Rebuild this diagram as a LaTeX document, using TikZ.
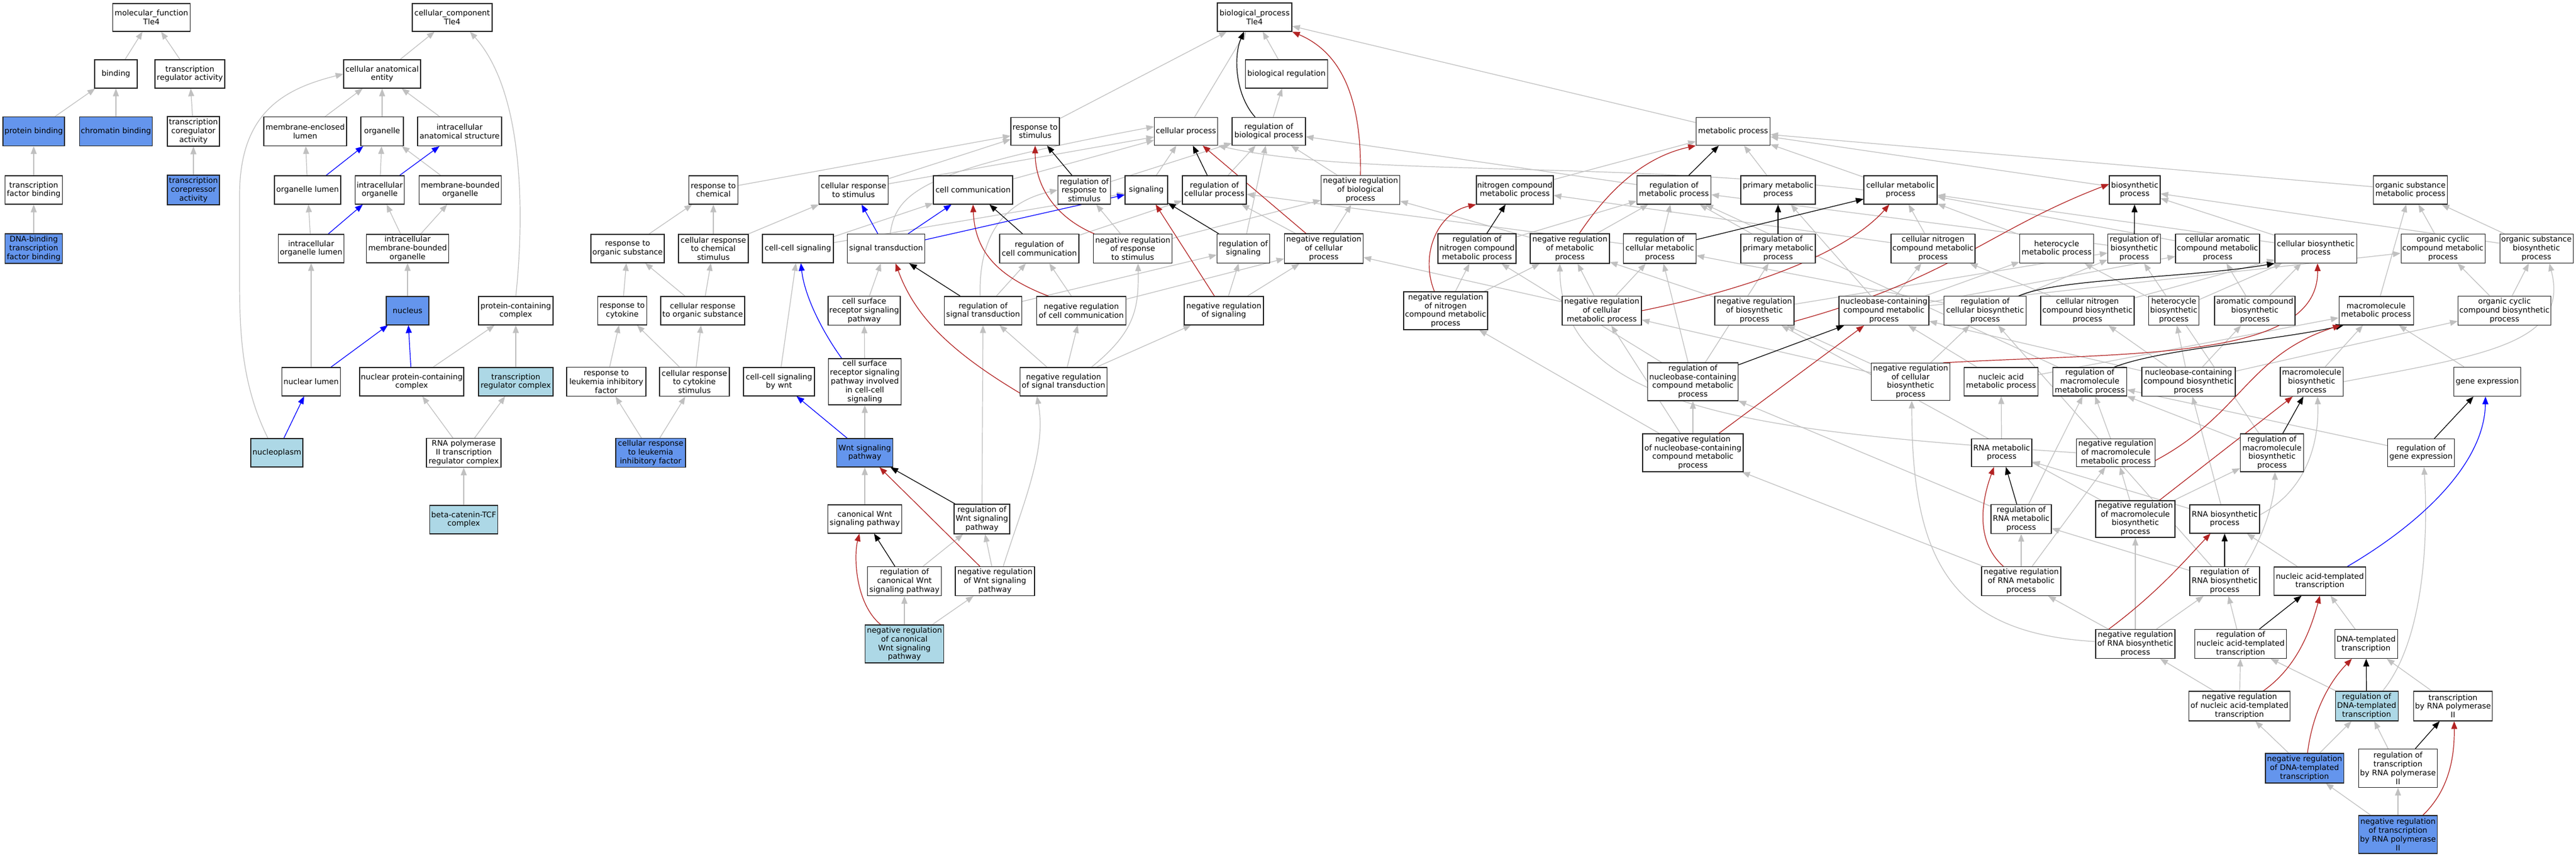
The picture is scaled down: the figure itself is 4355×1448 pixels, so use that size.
\documentclass[tikz,border=0pt]{standalone}
\usepackage{fontspec}
\setmainfont{DejaVu Sans}
\usetikzlibrary{arrows.meta,backgrounds}
\definecolor{gocorn}{HTML}{6495ED}
\definecolor{golb}{HTML}{ADD8E6}
\definecolor{gogrey}{HTML}{C0C0C0}
\definecolor{gored}{HTML}{B22222}
\definecolor{goblue}{HTML}{0000FF}
\tikzset{
 gobox/.style={draw=black!85,line width=1.1pt,fill=white,align=center,inner xsep=1pt,inner ysep=1pt,font=\fontsize{13}{14.8}\selectfont},
 cornbox/.style={fill=gocorn},
 lbbox/.style={fill=golb},
 edgebase/.style={line width=1.2pt,-{Triangle[length=13pt,width=10pt]}},
 isa/.style={edgebase,draw=gogrey},
 regs/.style={edgebase,draw=black},
 nregs/.style={edgebase,draw=gored},
 partof/.style={edgebase,draw=goblue},
}
\newcommand\gonode[7][]{\node[gobox,#1,minimum width=#5pt,minimum height=#6pt] (#2) at (#3,#4) {#7};}
\begin{document}
\begin{tikzpicture}[x=1pt,y=-1pt]
\useasboundingbox (0,0) rectangle (4355,1448);
% molecular function
\gonode{mf}{256}{29.5}{131}{47}{molecular\_function\\Tle4}
\gonode{binding}{196}{125}{72}{48}{binding}
\gonode{tra}{321}{125}{118}{48}{transcription\\regulator activity}
\gonode[cornbox]{pb}{57}{222}{104}{49}{protein binding}
\gonode[cornbox]{cb}{196}{222}{123}{49}{chromatin binding}
\gonode{tca}{327}{222}{88}{50}{transcription\\coregulator\\activity}
\gonode{tfb}{57}{321}{97}{48}{transcription\\factor binding}
\gonode[cornbox]{tcra}{327}{321}{88}{50}{transcription\\corepressor\\activity}
\gonode[cornbox]{dbtf}{57}{420}{97}{50}{DNA-binding\\transcription\\factor binding}
% cellular component
\gonode{cc}{764.5}{29.5}{135}{47}{cellular\_component\\Tle4}
\gonode{cae}{646}{125}{130}{48}{cellular anatomical\\entity}
\gonode{mel}{516}{222}{140}{49}{membrane-enclosed\\lumen}
\gonode{org}{646}{222}{72}{49}{organelle}
\gonode{ias}{777}{222}{142}{49}{intracellular\\anatomical structure}
\gonode{ol}{520}{321}{112}{48}{organelle lumen}
\gonode{io}{642}{321}{83}{48}{intracellular\\organelle}
\gonode{mbo}{778}{321}{139}{48}{membrane-bounded\\organelle}
\gonode{iol}{526}{420}{111}{48}{intracellular\\organelle lumen}
\gonode{imbo}{689}{420}{139}{48}{intracellular\\membrane-bounded\\organelle}
\gonode[cornbox]{nucleus}{689}{525}{72}{48}{nucleus}
\gonode{nl}{526}{645}{99}{48}{nuclear lumen}
\gonode{npcc}{696}{645}{176}{48}{nuclear protein-containing\\complex}
\gonode{pcc}{872}{525}{126}{48}{protein-containing\\complex}
\gonode[lbbox]{trc}{872}{645}{126}{48}{transcription\\regulator complex}
\gonode[lbbox]{np}{468}{765}{88}{48}{nucleoplasm}
\gonode{rnapii}{784}{765}{126}{49}{RNA polymerase\\II transcription\\regulator complex}
\gonode[lbbox]{bcat}{784}{878}{115}{48}{beta-catenin-TCF\\complex}
% response / signaling
\gonode{rchem}{1206}{321}{83}{48}{response to\\chemical}
\gonode{crs}{1443}{321}{117}{48}{cellular response\\to stimulus}
\gonode{ros}{1061}{420}{124}{48}{response to\\organic substance}
\gonode{crcs}{1206}{420}{118}{48}{cellular response\\to chemical\\stimulus}
\gonode{ccs}{1349}{420}{120}{48}{cell-cell signaling}
\gonode{st}{1498}{420}{131}{49}{signal transduction}
\gonode{rcyt}{1052}{525}{83}{48}{response to\\cytokine}
\gonode{cros}{1188}{525}{142}{48}{cellular response\\to organic substance}
\gonode{csrsp}{1461}{525}{122}{49}{cell surface\\receptor signaling\\pathway}
\gonode{rlif}{1025}{645}{134}{49}{response to\\leukemia inhibitory\\factor}
\gonode{crcyt}{1174}{645}{118}{49}{cellular response\\to cytokine\\stimulus}
\gonode{ccswnt}{1317}{645}{120}{48}{cell-cell signaling\\by wnt}
\gonode{csrspccs}{1462}{645}{123}{78}{cell surface\\receptor signaling\\pathway involved\\in cell-cell\\signaling}
\gonode[cornbox]{crlif}{1100}{765}{118}{49}{cellular response\\to leukemia\\inhibitory factor}
\gonode[cornbox]{wnt}{1462}{765}{95}{48}{Wnt signaling\\pathway}
\gonode{cwnt}{1462}{877}{125}{48}{canonical Wnt\\signaling pathway}
\gonode{rwnt}{1660}{877}{94}{50}{regulation of\\Wnt signaling\\pathway}
\gonode{rcwnt}{1529}{982}{125}{49}{regulation of\\canonical Wnt\\signaling pathway}
\gonode{nrwnt}{1682}{982}{134}{49}{negative regulation\\of Wnt signaling\\pathway}
\gonode[lbbox]{nrcwnt}{1529}{1088}{133}{64}{negative regulation\\of canonical\\Wnt signaling\\pathway}
\gonode{nrst}{1798}{645}{147}{48}{negative regulation\\of signal transduction}
% biological process top
\gonode{bp}{2121}{29}{126}{48}{biological\_process\\Tle4}
\gonode{breg}{2175}{125}{139}{48}{biological regulation}
\gonode{rstim}{1750}{222}{82}{47}{response to\\stimulus}
\gonode{cp}{2005}{222}{107}{47}{cellular process}
\gonode{rbp}{2145}{222}{124}{47}{regulation of\\biological process}
\gonode{ccomm}{1645}{321}{134}{48}{cell communication}
\gonode{rrs}{1833}{321}{89}{48}{regulation of\\response to\\stimulus}
\gonode{sig}{1938}{321}{72}{48}{signaling}
\gonode{rcp}{2053}{321}{108}{48}{regulation of\\cellular process}
\gonode{rcc}{1757}{420}{134}{49}{regulation of\\cell communication}
\gonode{nrrs}{1915}{420}{133}{49}{negative regulation\\of response\\to stimulus}
\gonode{rsig}{2102}{420}{89}{49}{regulation of\\signaling}
\gonode{nrcp}{2238}{420}{133}{50}{negative regulation\\of cellular\\process}
\gonode{nrbp}{2300}{321}{133}{49}{negative regulation\\of biological\\process}
\gonode{rst}{1662}{525}{131}{48}{regulation of\\signal transduction}
\gonode{nrcc}{1828}{525}{151}{48}{negative regulation\\of cell communication}
\gonode{nrsig}{2069}{525}{134}{48}{negative regulation\\of signaling}
% metabolic
\gonode{mp}{2930}{222}{125}{47}{metabolic process}
\gonode{ncmp}{2561}{321}{130}{48}{nitrogen compound\\metabolic process}
\gonode{rmp}{2830}{321}{125}{48}{regulation of\\metabolic process}
\gonode{rncmp}{2497}{420}{132}{50}{regulation of\\nitrogen compound\\metabolic process}
\gonode{nrmp}{2654}{420}{134}{50}{negative regulation\\of metabolic\\process}
\gonode{rcmp}{2806}{420}{123}{50}{regulation of\\cellular metabolic\\process}
\gonode{nrncmp}{2444}{525}{142}{64}{negative regulation\\of nitrogen\\compound metabolic\\process}
\gonode{nrcmp}{2708}{525}{134}{49}{negative regulation\\of cellular\\metabolic process}
\gonode{pmp}{3006}{321}{126}{48}{primary metabolic\\process}
\gonode{cmp}{3213}{321}{124}{48}{cellular metabolic\\process}
\gonode{bsp}{3609}{321}{86}{48}{biosynthetic\\process}
\gonode{rpmp}{3006}{420}{126}{49}{regulation of\\primary metabolic\\process}
\gonode{cncmp}{3268}{420}{142}{49}{cellular nitrogen\\compound metabolic\\process}
\gonode{hmp}{3477}{420}{125}{49}{heterocycle\\metabolic process}
\gonode{rbsp}{3608}{420}{89}{49}{regulation of\\biosynthetic\\process}
\gonode{nrbsp}{2966}{525}{134}{49}{negative regulation\\of biosynthetic\\process}
\gonode{nbcmp}{3185}{525}{152}{49}{nucleobase-containing\\compound metabolic\\process}
\gonode{rcbsp}{3356}{525}{139}{49}{regulation of\\cellular biosynthetic\\process}
\gonode{cncbsp}{3529}{525}{158}{49}{cellular nitrogen\\compound biosynthetic\\process}
\gonode{rnbcmp}{2862}{645}{153}{64}{regulation of\\nucleobase-containing\\compound metabolic\\process}
\gonode{nrcbsp}{3230}{645}{133}{63}{negative regulation\\of cellular\\biosynthetic\\process}
\gonode{namp}{3383}{645}{125}{48}{nucleic acid\\metabolic process}
\gonode{rmmp}{3533}{645}{125}{48}{regulation of\\macromolecule\\metabolic process}
\gonode{nrnbcmp}{2862}{765}{170}{64}{negative regulation\\of nucleobase-containing\\compound metabolic\\process}
\gonode{rnamp}{3384}{765}{102}{47}{RNA metabolic\\process}
\gonode{nrmmp}{3577}{765}{133}{47}{negative regulation\\of macromolecule\\metabolic process}
\gonode{rrnamp}{3417}{877}{102}{49}{regulation of\\RNA metabolic\\process}
\gonode{nrmbsp}{3610}{877}{134}{62}{negative regulation\\of macromolecule\\biosynthetic\\process}
\gonode{nrrnamp}{3417}{982}{134}{49}{negative regulation\\of RNA metabolic\\process}
\gonode{nrrnabsp}{3610}{1088}{134}{49}{negative regulation\\of RNA biosynthetic\\process}
% right part
\gonode{osmp}{4075}{321}{125}{48}{organic substance\\metabolic process}
\gonode{camp}{3749}{420}{142}{49}{cellular aromatic\\compound metabolic\\process}
\gonode{cbsp}{3915}{420}{138}{49}{cellular biosynthetic\\process}
\gonode{occmp}{4130}{420}{142}{49}{organic cyclic\\compound metabolic\\process}
\gonode{osbsp}{4288}{420}{124}{49}{organic substance\\biosynthetic\\process}
\gonode{hbsp}{3675}{525}{85}{49}{heterocycle\\biosynthetic\\process}
\gonode{acbsp}{3812}{525}{136}{49}{aromatic compound\\biosynthetic\\process}
\gonode{mmp}{4017}{525}{126}{48}{macromolecule\\metabolic process}
\gonode{occbsp}{4234}{525}{157}{49}{organic cyclic\\compound biosynthetic\\process}
\gonode{nbcbsp}{3700}{645}{158}{49}{nucleobase-containing\\compound biosynthetic\\process}
\gonode{mbsp}{3908}{645}{106}{49}{macromolecule\\biosynthetic\\process}
\gonode{ge}{4205}{645}{113}{49}{gene expression}
\gonode{rmbsp}{3841}{765}{107}{64}{regulation of\\macromolecule\\biosynthetic\\process}
\gonode{rge}{4093}{765}{113}{47}{regulation of\\gene expression}
\gonode{rnabsp}{3761}{877}{118}{48}{RNA biosynthetic\\process}
\gonode{rrnabsp}{3761}{982}{118}{49}{regulation of\\RNA biosynthetic\\process}
\gonode{natt}{3922}{982}{155}{48}{nucleic acid-templated\\transcription}
\gonode{rnatt}{3788}{1088}{155}{49}{regulation of\\nucleic acid-templated\\transcription}
\gonode{dtt}{4000}{1088}{106}{49}{DNA-templated\\transcription}
\gonode{nrnatt}{3786}{1193}{171}{50}{negative regulation\\of nucleic acid-templated\\transcription}
\gonode[lbbox]{rdtt}{4001}{1193}{106}{50}{regulation of\\DNA-templated\\transcription}
\gonode{trp2}{4147}{1193}{133}{50}{transcription\\by RNA polymerase\\II}
\gonode[cornbox]{nrdtt}{3896}{1298}{132}{50}{negative regulation\\of DNA-templated\\transcription}
\gonode{rtrp2}{4054}{1298}{133}{65}{regulation of\\transcription\\by RNA polymerase\\II}
\gonode[cornbox]{nrtrp2}{4054}{1410}{133}{64}{negative regulation\\of transcription\\by RNA polymerase\\II}

\begin{pgfonlayer}{background}
\fill[white] (0,0) rectangle (4355,1448);
% is_a, straight
\foreach \a/\b in {binding/mf, tra/mf, pb/binding, cb/binding, tca/tra, tfb/pb, tcra/tca, dbtf/tfb,
 cae/cc, mel/cae, org/cae, ias/cae, ol/mel, io/org, mbo/org, iol/ol, imbo/io, imbo/mbo, nucleus/imbo, nl/iol, npcc/pcc, trc/pcc, rnapii/npcc, rnapii/trc, bcat/rnapii,
 rstim/bp, cp/bp, breg/bp, mp/bp, rbp/breg, nrbp/rbp, rchem/rstim, crs/rstim, crs/cp, ccomm/cp, rrs/rbp, sig/cp, rcp/rbp, rsig/rbp,
 crcs/rchem, crcs/crs, ros/rchem, rcyt/ros, cros/ros, cros/crcs, rlif/rcyt, crcyt/rcyt, crcyt/cros, crlif/rlif, crlif/crcyt,
 ccs/ccomm, ccs/sig, rcc/rcp, rst/rsig, rst/rcc, nrrs/rrs, nrrs/nrbp, nrcc/rcc, nrcc/nrcp, nrsig/rsig, nrsig/nrcp, nrcp/rcp, nrcp/nrbp, nrst/rst, nrst/nrcc, nrst/nrsig,
 csrsp/st, csrspccs/csrsp, ccswnt/ccs, wnt/csrspccs, cwnt/wnt, rwnt/rst, rcwnt/rwnt, nrwnt/rwnt, nrcwnt/rcwnt, nrcwnt/nrwnt,
 ncmp/mp, rmp/rbp, pmp/mp, cmp/mp, bsp/mp, osmp/mp, rncmp/rmp, nrmp/rmp, nrmp/nrbp, rcmp/rmp, rcmp/rcp, rpmp/rmp, nrncmp/rncmp, nrncmp/nrmp, nrcmp/rcmp, nrcmp/nrmp, nrcmp/nrcp,
 cncmp/cmp, cncmp/ncmp, hmp/cmp, rbsp/rmp, camp/cmp, cbsp/bsp, cbsp/cmp, occmp/osmp, osbsp/osmp, osbsp/bsp,
 nrbsp/rbsp, nrbsp/nrmp, nbcmp/cncmp, nbcmp/pmp, nbcmp/hmp, nbcmp/camp, nbcmp/occmp, rcbsp/rbsp, rcbsp/rcmp, cncbsp/cncmp, cncbsp/cbsp, hbsp/hmp, hbsp/cbsp, acbsp/camp, acbsp/cbsp, mmp/osmp, occbsp/occmp, occbsp/osbsp,
 rnbcmp/rcmp, rnbcmp/rncmp, rnbcmp/rpmp, nrcbsp/nrbsp, nrcbsp/rcbsp, nrcbsp/nrcmp, namp/nbcmp, namp/mmp, rmmp/rmp, nrnbcmp/rnbcmp, nrnbcmp/nrcmp, nrnbcmp/nrncmp,
 rnamp/namp, nrmmp/rmmp, rrnamp/rnbcmp, rrnamp/rmmp, nrmbsp/nrmmp, nrmbsp/rmbsp, nrmbsp/nrbsp, nrrnamp/rrnamp, nrrnamp/nrmmp, nrrnamp/nrnbcmp,
 rnabsp/rnamp, rnabsp/nbcbsp, nrrnabsp/rrnabsp, nrrnabsp/nrmbsp, nrrnabsp/nrrnamp, rrnabsp/rrnamp, rrnabsp/rcbsp,
 natt/rnabsp, rnatt/rrnabsp, dtt/natt, nrnatt/rnatt, nrnatt/nrrnabsp, rdtt/rnatt, trp2/dtt, nrdtt/nrnatt, nrdtt/rdtt, rtrp2/rdtt, nrtrp2/rtrp2, nrtrp2/nrdtt,
 rge/rmmp, mbsp/mmp, ge/mmp, rmbsp/rmmp, rmbsp/rbsp, nbcbsp/nbcmp, nbcbsp/hbsp, nbcbsp/acbsp, nbcbsp/cncbsp, nbcbsp/occbsp}
 \draw[isa] (\a) -- (\b);
% is_a, curved
\draw[isa] ([xshift=-15pt]np.north) .. controls (408,650) and (405,560) .. (405,470) -- (405,330) .. controls (405,190) and (480,150) .. (cae.west);
\draw[isa] (pcc.north) .. controls (885,380) and (890,160) .. ([xshift=30pt]cc.south);
\draw[isa] ([xshift=7pt]st.north) .. controls (1515,320) and (1570,285) .. ([yshift=8pt]cp.west);
\draw[isa] ([xshift=-5pt]rst.north) .. controls (1655,420) and (1680,345) .. (rrs.west);
\draw[isa] ([xshift=47pt]nrst.north) .. controls (1920,560) and (1925,520) .. ([xshift=9pt]nrrs.south);
\draw[isa] ([xshift=14pt]nrwnt.north) .. controls (1730,850) and (1770,760) .. ([xshift=-45pt]nrst.south);
\draw[isa] (cmp.west) .. controls (2700,270) and (2300,300) .. (cp.south east);
\draw[isa] (mbsp.east) .. controls (4200,600) and (4345,580) .. ([xshift=22pt]osbsp.south);
\draw[isa] ([yshift=7pt]rnabsp.east) .. controls (3915,820) and (3920,720) .. ([xshift=10pt]mbsp.south);
\draw[isa] ([xshift=34pt]rrnabsp.north) .. controls (3830,900) and (3846,840) .. ([xshift=5pt]rmbsp.south);
\draw[isa] ([yshift=4pt]nrrnabsp.west) .. controls (3300,1070) and (3232,950) .. ([xshift=2pt]nrcbsp.south);
\draw[isa] (nrmmp.west) .. controls (3000,730) and (2640,700) .. ([xshift=-17pt]nrmp.south);
\draw[isa] ([xshift=27pt]rdtt.north) .. controls (4100,1080) and (4105,900) .. ([xshift=5pt]rge.south);
% regulates
\foreach \a/\b in {rrs/rstim, rcp/cp, rcc/ccomm, rsig/sig, rst/st, rwnt/wnt, rcwnt/cwnt, rmp/mp, rncmp/ncmp, rcmp/cmp, rpmp/pmp, rbsp/bsp, rnbcmp/nbcmp, rrnamp/rnamp, rmbsp/mbsp, rge/ge, rrnabsp/rnabsp, rnatt/natt, rdtt/dtt, rtrp2/trp2}
 \draw[regs] (\a) -- (\b);
\draw[regs] ([xshift=-23pt]rbp.north) .. controls (2088,160) and (2085,95) .. ([xshift=-18pt]bp.south);
\draw[regs] ([xshift=57pt]rcbsp.north) .. controls (3480,470) and (3700,470) .. (cbsp.south west);
\draw[regs] ([xshift=41pt]rmmp.north) .. controls (3650,590) and (3850,575) .. ([xshift=-55pt]mmp.south);
% negatively regulates
\foreach \a/\b in {nrcp/cp, nrsig/sig, nrwnt/wnt, nrnbcmp/nbcmp, nrmbsp/mbsp}
 \draw[nregs] (\a) -- (\b);
\draw[nregs] (nrbp.north) .. controls (2302,170) and (2270,90) .. (bp.south east);
\draw[nregs] ([xshift=-65pt]nrrs.north) .. controls (1790,370) and (1750,320) .. (rstim.south);
\draw[nregs] ([xshift=-55pt]nrcc.north) .. controls (1680,465) and (1648,420) .. (ccomm.south);
\draw[nregs] ([yshift=-19pt]nrst.west) .. controls (1600,590) and (1545,530) .. ([xshift=16pt]st.south);
\draw[nregs] ([xshift=-40pt]nrcwnt.north) .. controls (1446,1020) and (1443,940) .. ([xshift=-9pt]cwnt.south);
\draw[nregs] ([xshift=16pt]nrmp.north) .. controls (2720,320) and (2780,265) .. (mp.south west);
\draw[nregs] ([xshift=-19pt]nrncmp.north) .. controls (2400,430) and (2430,360) .. (ncmp.south west);
\draw[nregs] (nrcmp.east) .. controls (2950,490) and (3120,430) .. ([xshift=-19pt]cmp.south);
\draw[nregs] ([yshift=-18pt]nrbsp.east) .. controls (3300,470) and (3360,390) .. ([yshift=10pt]bsp.west);
\draw[nregs] ([xshift=55pt]nrcbsp.north) .. controls (3600,595) and (3920,610) .. ([xshift=3pt]cbsp.south);
\draw[nregs] ([yshift=-13pt]nrmmp.east) .. controls (3790,700) and (3800,600) .. ([xshift=-60pt]mmp.south);
\draw[nregs] ([xshift=-30pt]nrrnamp.north) .. controls (3345,920) and (3345,860) .. ([xshift=-13pt]rnamp.south);
\draw[nregs] ([xshift=-45pt]nrrnabsp.north) .. controls (3650,1000) and (3700,940) .. ([xshift=-24pt]rnabsp.south);
\draw[nregs] ([xshift=40pt]nrnatt.north) .. controls (3880,1130) and (3905,1070) .. (natt.south);
\draw[nregs] ([xshift=5pt]nrdtt.north) .. controls (3910,1200) and (3940,1150) .. ([xshift=-24pt]dtt.south);
\draw[nregs] ([xshift=42pt]nrtrp2.north) .. controls (4135,1340) and (4150,1290) .. ([xshift=2pt]trp2.south);
% part_of
\foreach \a/\b in {ol/org, io/ias, iol/io, nl/nucleus, npcc/nucleus, np/nl, st/crs, st/ccomm, st/sig, wnt/ccswnt}
 \draw[partof] (\a) -- (\b);
\draw[partof] ([xshift=-39pt]csrspccs.north) .. controls (1390,560) and (1360,500) .. ([xshift=5pt]ccs.south);
\draw[partof] ([xshift=46pt]natt.north) .. controls (4100,880) and (4200,780) .. ([xshift=-3pt]ge.south);
\end{pgfonlayer}
\end{tikzpicture}
\end{document}
